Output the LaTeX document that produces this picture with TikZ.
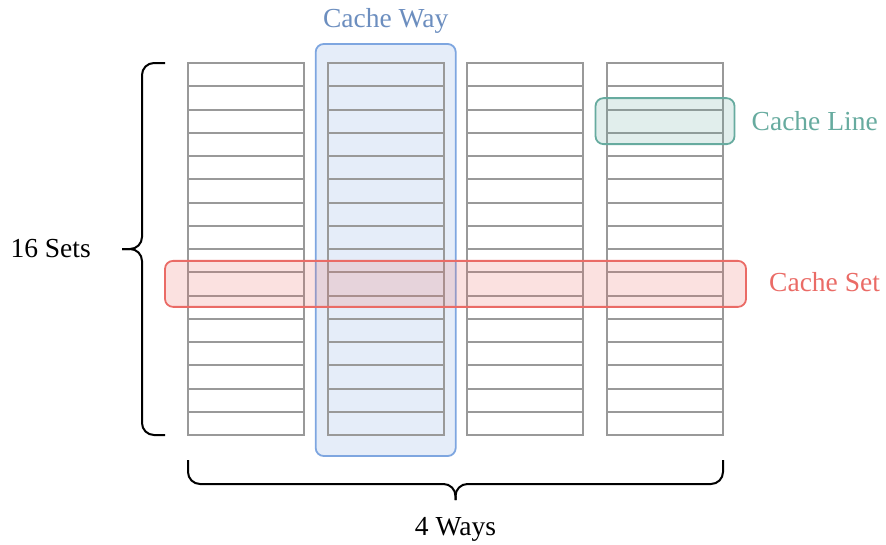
\documentclass[tikz,border=0pt]{standalone}
\usepackage{fontspec}
\setmainfont{Liberation Serif}
\usepackage{xcolor}
\usetikzlibrary{positioning, calc}
\definecolor{cellgray}{HTML}{999999}
\definecolor{waystroke}{HTML}{7EA6E0}
\definecolor{waytext}{HTML}{6C8EBF}
\definecolor{linestroke}{HTML}{67AB9F}
\definecolor{setstroke}{HTML}{EA6B66}
\tikzset{
    cell/.style={rectangle, draw=cellgray, line width=2pt, minimum width=116pt, minimum height=23.25pt, inner sep=0pt, outer sep=0pt},
    hilite/.style={rectangle, rounded corners=8pt, line width=1.8pt, fill opacity=0.2, inner sep=0pt, outer sep=0pt},
    waybox/.style={hilite, draw=waystroke, fill=waystroke, minimum width=140pt, minimum height=412pt},
    linebox/.style={hilite, draw=linestroke, fill=linestroke, minimum width=139pt, minimum height=46pt},
    setbox/.style={hilite, draw=setstroke, fill=setstroke, minimum width=581pt, minimum height=46pt},
    label/.style={inner sep=0pt, font=\fontsize{27.5}{32}\selectfont},
    brace/.style={line width=2pt, black, rounded corners=12pt}
}
\begin{document}
\begin{tikzpicture}[x=1pt, y=-1pt]
    \useasboundingbox (0,0) rectangle (886,544);

    % cache way highlight behind the grid
    \node (way) [waybox] at (385.7,250) {};

    % 4 ways x 16 sets
    \foreach \c in {1,...,4}
        \foreach \r in {1,...,16}
            \node (c\c-\r) [cell] at ({246+(\c-1)*139.67}, {51.375+\r*23.25}) {};

    \node (set) [setbox] at ($(c1-10)!0.5!(c4-10)$) {};
    \node (line) [linebox] at (c4-3) {};

    \node (waylabel) [label, text=waytext, above=10pt of way] {Cache Way};
    \node (linelabel) [label, text=linestroke, right=17pt of line] {Cache Line};
    \node (setlabel) [label, text=setstroke, right=23pt of set, yshift=2pt] {Cache Set};

    % left brace
    \coordinate (lbtop) at ($(c1-1.north west)+(-23,0)$);
    \coordinate (lbbot) at ($(c1-16.south west)+(-23,0)$);
    \coordinate (lbtip) at ($(lbtop)!0.5!(lbbot)+(-43,0)$);
    \draw [brace] (lbtop) -- ++(-23,0) |- (lbtip);
    \draw [brace] (lbbot) -- ++(-23,0) |- (lbtip);
    \node (sets) [label, left=31pt of lbtip] {16 Sets};

    % bottom brace
    \coordinate (bbl) at ($(c1-16.south west)+(0,25)$);
    \coordinate (bbr) at ($(c4-16.south east)+(0,25)$);
    \coordinate (bbtip) at ($(bbl)!0.5!(bbr)+(0,40)$);
    \draw [brace] (bbl) -- ++(0,24) -| (bbtip);
    \draw [brace] (bbr) -- ++(0,24) -| (bbtip);
    \node (ways) [label, below=17pt of bbtip] {4 Ways};
\end{tikzpicture}
\end{document}
